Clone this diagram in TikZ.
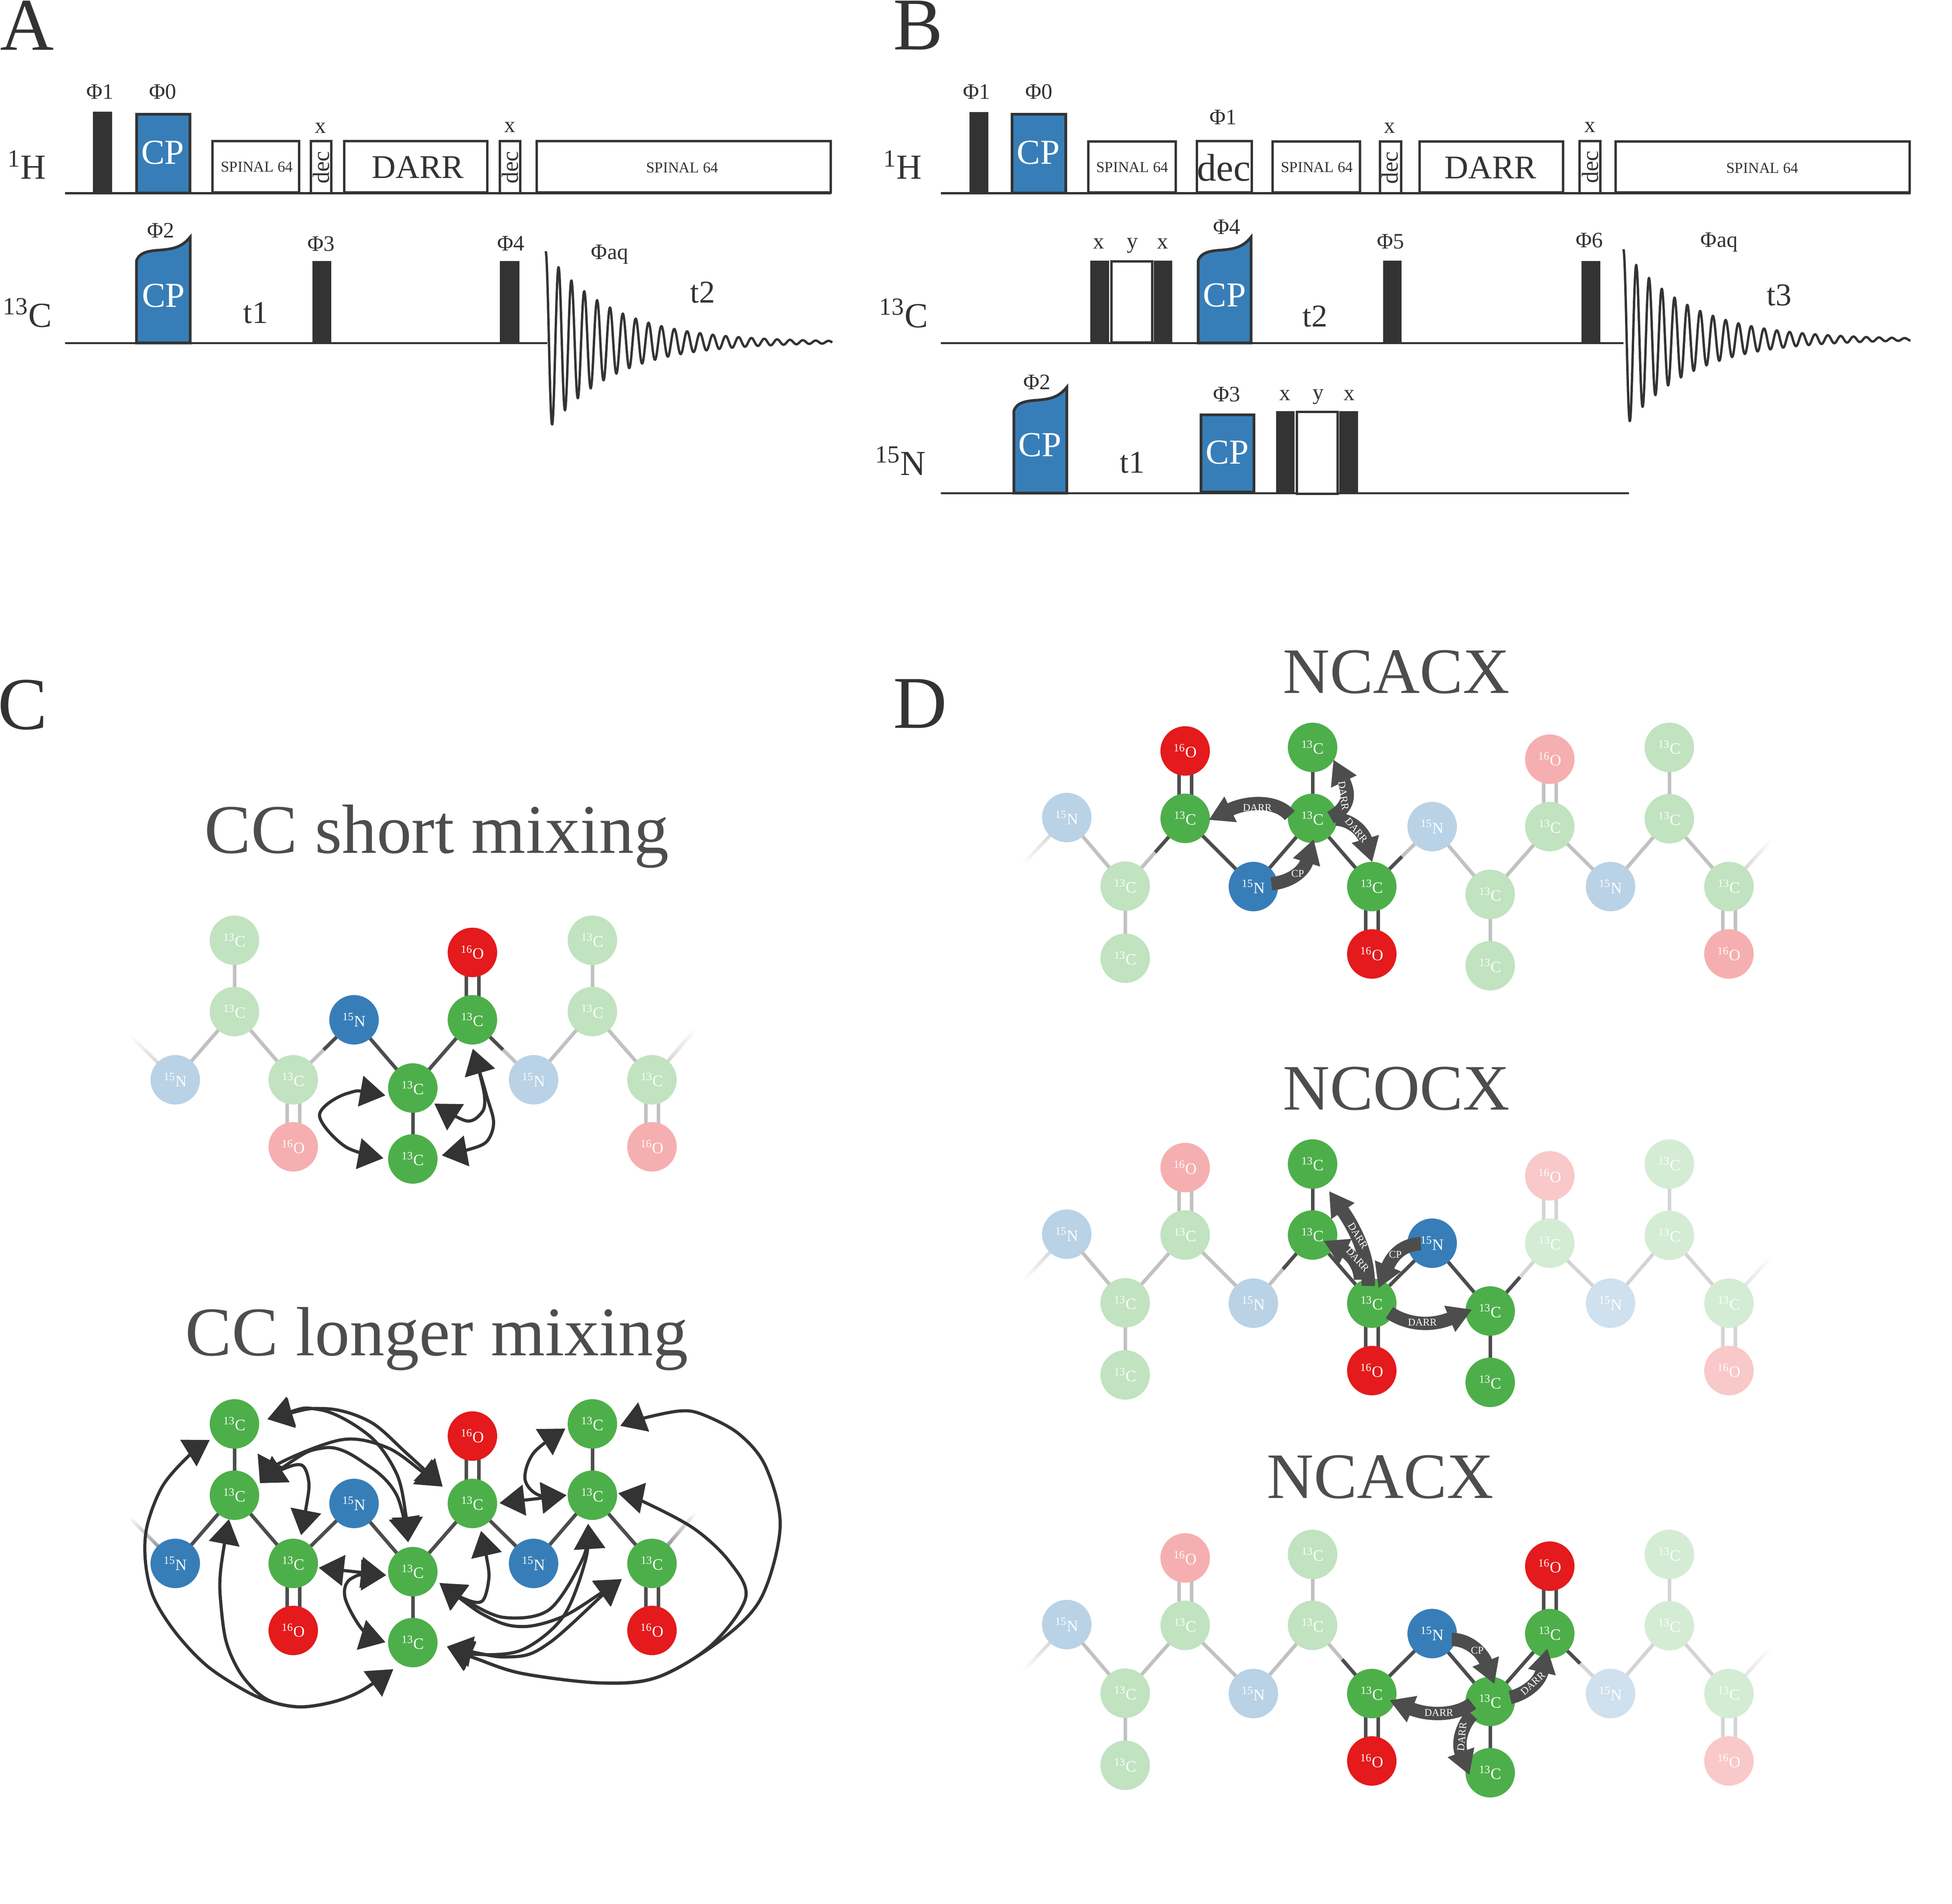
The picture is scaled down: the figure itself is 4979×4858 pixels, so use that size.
\documentclass[tikz,border=0pt]{standalone}
\usepackage{fontspec}
\setmainfont{Liberation Serif}
\usetikzlibrary{arrows.meta,calc}
\pgfdeclarelayer{paper}
\pgfdeclarelayer{background}
\pgfsetlayers{paper,background,main}
\definecolor{colC}{HTML}{4DAF4A}
\definecolor{colN}{HTML}{377EB8}
\definecolor{colO}{HTML}{E41A1C}
\definecolor{bondbase}{HTML}{4D4D4D}
\definecolor{ink}{HTML}{333333}
\newcommand\fsz[1]{\fontsize{#1}{#1}\selectfont}
\newcommand\lblC{\textsuperscript{13}C}
\newcommand\lblN{\textsuperscript{15}N}
\newcommand\lblO{\textsuperscript{16}O}
\tikzset{
 atom/.style={circle,minimum size=1.26cm,inner sep=0pt,text=white,font=\fsz{11.5}},
 bondline/.style={line width=.09cm},
 thinarrow/.style={draw=ink,line width=.08cm,{Triangle[width=.78cm,length=.64cm]}-{Triangle[width=.78cm,length=.64cm]}},
 fatarrow/.style={draw=bondbase,line width=.34cm,-{Triangle[width=.68cm,length=.62cm]}},
 fatlab/.style={text=white,inner sep=0pt,font=\fsz{7.5}},
 title/.style={text=bondbase,inner sep=0pt,font=\fsz{50.5}},
 titleb/.style={text=bondbase,inner sep=0pt,font=\fsz{47}},
 panel/.style={text=ink,inner sep=0pt,anchor=base west,font=\fsz{54}},
 chan/.style={text=ink,inner sep=0pt,anchor=base,font=\fsz{25.5}},
 phase/.style={text=ink,inner sep=0pt,font=\fsz{16}},
 delay/.style={text=ink,inner sep=0pt,font=\fsz{23}},
 cptext/.style={text=white,inner sep=0pt,font=\fsz{25.5}},
 spin/.style={text=ink,inner sep=0pt,font=\fsz{11}},
 darr/.style={text=ink,inner sep=0pt,font=\fsz{24}},
 dectext/.style={text=ink,inner sep=0pt,font=\fsz{17},rotate=90},
 bigdec/.style={text=ink,inner sep=0pt,font=\fsz{28}},
 railthick/.style={draw=ink,line width=.06cm},
 railthin/.style={draw=ink,line width=.05cm},
 pbar/.style={fill=ink},
 pbox/.style={draw=ink,fill=white,line width=.06cm},
 cpbox/.style={draw=ink,fill=colN,line width=.07cm},
 fid/.style={draw=ink,line width=.06cm,line join=round},
 curve/.style={smooth,tension=.55},
}
% atom tables: index / type / x / y relative to the first nitrogen
\def\chainC{1/N/0/0,2/C/151/-174,3/C/151/-356,4/C/301/0,5/O/301/171,6/N/456/-153,7/C/606/21,8/C/606/202,9/C/758/-153,10/O/758/-325,11/N/914/0,12/C/1064/-174,13/C/1064/-356,14/C/1216/0,15/O/1216/171}
\def\chainD{1/N/0/0,2/C/149/175,3/C/149/359,4/C/302/2,5/O/302/-170,6/N/476/176,7/C/627/2,8/C/627/-179,9/C/778/176,10/O/778/348,11/N/932/23,12/C/1080/196,13/C/1080/378,14/C/1232/23,15/O/1232/-149,16/N/1387/176,17/C/1537/3,18/C/1537/-179,19/C/1689/176,20/O/1689/348}
\newcommand\molatoms[7]{% list, prefix, dx, dy, lo, hi, right level
 \foreach \aid/\atype/\ax/\ay in #1 {
  \pgfmathtruncatemacro\L{\aid<#5 ? 35 : (\aid>#6 ? #7 : 100)}
  \expandafter\xdef\csname lev#2\aid\endcsname{\L}
  \node[atom,fill=col\atype!\L!white] (#2\aid) at ({\ax+#3},{\ay+#4}) {\csname lbl\atype\endcsname};
 }
}
\newcommand\bondS[3]{%
 \edef\levP{\csname lev#1#2\endcsname}\edef\levQ{\csname lev#1#3\endcsname}%
 \draw[bondline,draw=bondbase!\levP!white] (#1#2.center) -- ($(#1#2.center)!.5!(#1#3.center)$);
 \draw[bondline,draw=bondbase!\levQ!white] (#1#3.center) -- ($(#1#2.center)!.5!(#1#3.center)$);
}
\newcommand\bondD[3]{%
 \edef\levP{\csname lev#1#2\endcsname}\edef\levQ{\csname lev#1#3\endcsname}%
 \foreach \off in {-16,16}{
 \draw[bondline,draw=bondbase!\levP!white] ($(#1#2.center)+(\off,0)$) -- ($(#1#2.center)!.5!(#1#3.center)+(\off,0)$);
 \draw[bondline,draw=bondbase!\levQ!white] ($(#1#3.center)+(\off,0)$) -- ($(#1#2.center)!.5!(#1#3.center)+(\off,0)$);
 }
}
\newcommand\chainbonds[1]{%
 \foreach \pa/\qa in {1/2,2/3,2/4,4/6,6/7,7/8,7/9,9/11,11/12,12/13,12/14} {\bondS{#1}{\pa}{\qa}}
 \foreach \pa/\qa in {4/5,9/10,14/15} {\bondD{#1}{\pa}{\qa}}
}
\newcommand\chainbondsD[1]{%
 \chainbonds{#1}
 \foreach \pa/\qa in {14/16,16/17,17/18,17/19} {\bondS{#1}{\pa}{\qa}}
 \bondD{#1}{19}{20}
}
\newcommand\cpshape[3]{% x1 x2 bottom
 \draw[cpbox] (#1,#3) -- (#1,{#3-209}) .. controls ({#1+.05*(#2-#1)},{#3-230}) and ({#1+.2*(#2-#1)},{#3-235}) .. ({#1+.45*(#2-#1)},{#3-237}) .. controls ({#1+.7*(#2-#1)},{#3-240}) and ({#1+.85*(#2-#1)},{#3-245}) .. (#2,{#3-270}) -- (#2,#3) -- cycle;
}
\newcommand\tailup[3]{% atom, end, colour: fades upward
 \shade[top color=white,bottom color=#3] ($(#1)+(-6,0)$) -- ($(#1)+(6,0)$) -- ($(#2)+(6,0)$) -- ($(#2)+(-6,0)$) -- cycle;
}
\newcommand\taildown[3]{%
 \shade[bottom color=white,top color=#3] ($(#1)+(-6,0)$) -- ($(#1)+(6,0)$) -- ($(#2)+(6,0)$) -- ($(#2)+(-6,0)$) -- cycle;
}
\begin{document}
\begin{tikzpicture}[x=.01cm,y=-.01cm]
\begin{pgfonlayer}{paper}
\fill[white] (0,0) rectangle (4979,4858);
\end{pgfonlayer}
\useasboundingbox (0,0) rectangle (4979,4858);
% ---------- panel letters
\node[panel] (pA) at (0,128) {A};
\node[panel] (pB) at (2278,127) {B};
\node[panel] (pC) at (-6,1860) {C};
\node[panel] (pD) at (2278,1857) {D};
% ---------- panel A
\draw[railthick] (166,493) -- (2120,493);
\draw[railthin] (166,875) -- (1396,875);
\node[chan] (aH) at (68,457) {\textsuperscript{1}H};
\node[chan] (aC) at (70,834) {\textsuperscript{13}C};
\fill[pbar] (237,285) rectangle (286,496);
\draw[cpbox] (348,292) rectangle (484,493);
\node[cptext] (acp1) at (415,389) {CP};
\node[phase] (ap1) at (255,234) {Φ1};
\node[phase] (ap0) at (415,234) {Φ0};
\draw[pbox] (542,360) rectangle (763,491);
\node[spin] (as1) at (655,426) {SPINAL 64};
\draw[pbox] (793,360) rectangle (845,493);
\node[dectext] (ad1) at (819,427) {dec};
\node[phase] (ax1) at (818,327) {x};
\draw[pbox] (878,360) rectangle (1243,491);
\node[darr] (adarr) at (1066,427) {DARR};
\draw[pbox] (1275,360) rectangle (1327,493);
\node[dectext] (ad2) at (1301,427) {dec};
\node[phase] (ax2) at (1301,325) {x};
\draw[pbox] (1369,360) rectangle (2119,491);
\node[spin] (as2) at (1740,428) {SPINAL 64};
\cpshape{348}{485}{875}
\node[cptext] (acp2) at (417,754) {CP};
\node[phase] (ap2) at (410,588) {Φ2};
\node[delay] (at1) at (652,798) {t1};
\fill[pbar] (797,666) rectangle (845,877);
\node[phase] (ap3) at (819,622) {Φ3};
\fill[pbar] (1275,666) rectangle (1325,877);
\node[phase] (ap4) at (1303,621) {Φ4};
\draw[fid] plot[samples=700,domain=0:731,variable=\t] ({1392+\t},{873-232*exp(-\t/170)*cos(\t*10.976)});
\node[phase] (apaq) at (1555,649) {Φaq};
\node[delay] (at2) at (1792,746) {t2};
% ---------- panel B
\draw[railthick] (2400,493) -- (4873,493);
\draw[railthin] (2400,875) -- (4141,875);
\draw[railthin] (2400,1258) -- (4155,1258);
\node[chan] (bH) at (2302,457) {\textsuperscript{1}H};
\node[chan] (bC) at (2305,835) {\textsuperscript{13}C};
\node[chan] (bN) at (2297,1212) {\textsuperscript{15}N};
\fill[pbar] (2473,286) rectangle (2521,496);
\node[phase] (bp1) at (2491,234) {Φ1};
\draw[cpbox] (2581,292) rectangle (2718,493);
\node[phase] (bp0) at (2650,234) {Φ0};
\node[cptext] (bcp1) at (2648,389) {CP};
\draw[pbox] (2776,361) rectangle (2999,491);
\node[spin] (bs1) at (2888,427) {SPINAL 64};
\draw[pbox] (3053,360) rectangle (3193,491);
\node[bigdec] (bdec) at (3122,428) {dec};
\node[phase] (bp1b) at (3120,299) {Φ1};
\draw[pbox] (3246,361) rectangle (3469,491);
\node[spin] (bs2) at (3359,427) {SPINAL 64};
\draw[pbox] (3520,361) rectangle (3574,493);
\node[dectext] (bd1) at (3545,428) {dec};
\node[phase] (bx1) at (3545,327) {x};
\draw[pbox] (3621,361) rectangle (3987,491);
\node[darr] (bdarr) at (3802,428) {DARR};
\draw[pbox] (4029,360) rectangle (4082,493);
\node[dectext] (bd2) at (4056,426) {dec};
\node[phase] (bx2) at (4056,325) {x};
\draw[pbox] (4121,361) rectangle (4871,491);
\node[spin] (bs3) at (4495,429) {SPINAL 64};
\fill[pbar] (2781,665) rectangle (2829,877);
\draw[pbox] (2835,667) rectangle (2939,874);
\fill[pbar] (2943,665) rectangle (2990,877);
\node[phase] (bcx1) at (2803,622) {x};
\node[phase] (bcy) at (2889,627) {y};
\node[phase] (bcx2) at (2966,622) {x};
\cpshape{3056}{3191}{875}
\node[phase] (bp4) at (3129,579) {Φ4};
\node[cptext] (bcp2) at (3123,753) {CP};
\node[delay] (bt2) at (3354,807) {t2};
\fill[pbar] (3528,665) rectangle (3575,877);
\node[phase] (bp5) at (3547,616) {Φ5};
\fill[pbar] (4034,666) rectangle (4082,877);
\node[phase] (bp6) at (4054,613) {Φ6};
\draw[fid] plot[samples=700,domain=0:732,variable=\t] ({4141+\t},{866-230*exp(-\t/170)*cos(\t*11.043)});
\node[phase] (bpaq) at (4385,618) {Φaq};
\node[delay] (bt3) at (4538,753) {t3};
\cpshape{2586}{2721}{1258}
\node[phase] (bp2) at (2645,975) {Φ2};
\node[cptext] (bcp3) at (2652,1135) {CP};
\node[delay] (bt1) at (2888,1180) {t1};
\draw[cpbox] (3063,1058) rectangle (3198,1255);
\node[phase] (bp3) at (3129,1006) {Φ3};
\node[cptext] (bcp4) at (3130,1154) {CP};
\fill[pbar] (3255,1049) rectangle (3302,1260);
\draw[pbox] (3308,1051) rectangle (3412,1260);
\fill[pbar] (3416,1049) rectangle (3464,1260);
\node[phase] (bnx1) at (3278,1009) {x};
\node[phase] (bny) at (3363,1013) {y};
\node[phase] (bnx2) at (3442,1009) {x};
% ---------- titles
\node[title] (tcs) at (1114,2134) {CC short mixing};
\node[title] (tcl) at (1114,3416) {CC longer mixing};
\node[titleb] (tn1) at (3562,1715) {NCACX};
\node[titleb] (tn2) at (3562,2778) {NCOCX};
\node[titleb] (tn3) at (3521,3769) {NCACX};
% ---------- molecules
\molatoms{\chainC}{s}{447}{2755}{6}{10}{35}
\molatoms{\chainC}{l}{447}{3989}{1}{15}{100}
\molatoms{\chainD}{t}{2721}{2086}{4}{10}{35}
\molatoms{\chainD}{m}{2721}{3149}{7}{13}{24}
\molatoms{\chainD}{b}{2721}{4145}{9}{15}{24}
\coordinate (se1) at (330,2640);
\coordinate (se2) at (1775,2624);
\coordinate (le1) at (329,3870);
\coordinate (le2) at (1775,3858);
\coordinate (te1) at (2610,2205);
\coordinate (te2) at (4520,2140);
\coordinate (me1) at (2610,3268);
\coordinate (me2) at (4520,3203);
\coordinate (be1) at (2610,4264);
\coordinate (be2) at (4520,4199);
\begin{pgfonlayer}{background}
\chainbonds{s}\chainbonds{l}
\chainbondsD{t}\chainbondsD{m}\chainbondsD{b}
\tailup{s1}{se1}{bondbase!35!white}
\tailup{s14}{se2}{bondbase!35!white}
\tailup{l1}{le1}{bondbase!90!white}
\tailup{l14}{le2}{bondbase!90!white}
\taildown{t1}{te1}{bondbase!35!white}
\tailup{t19}{te2}{bondbase!35!white}
\taildown{m1}{me1}{bondbase!35!white}
\tailup{m19}{me2}{bondbase!24!white}
\taildown{b1}{be1}{bondbase!35!white}
\tailup{b19}{be2}{bondbase!24!white}
\end{pgfonlayer}
% ---------- CC short mixing arrows
\draw[thinarrow] plot[curve] coordinates {($(s7)+(-70,19)$) (885,2790) (815,2845) (880,2925) ($(s8)+(-75,-2)$)};
\draw[thinarrow] plot[curve] coordinates {($(s9)+(1,74)$) (1223,2737) (1236,2798) (1230,2837) (1190,2860) ($(s7)+(55,40)$)};
\draw[thinarrow] plot[curve] coordinates {($(s9)+(1,74)$) (1241,2795) (1259,2864) (1241,2913) (1192,2934) ($(s8)+(74,-9)$)};
% ---------- CC longer mixing arrows
\coordinate (tA) at ($(l3)+(84,-12)$);
\coordinate (tAo) at ($(l3)+(-63,41)$);
\coordinate (tB) at ($(l2)+(65,-31)$);
\coordinate (tBo) at ($(l2)+(-14,61)$);
\coordinate (tCa) at ($(l4)+(20,-72)$);
\coordinate (tCb) at ($(l4)+(65,11)$);
\coordinate (tDl) at ($(l7)+(-68,9)$);
\coordinate (tDa) at ($(l7)+(-12,-75)$);
\coordinate (tDr) at ($(l7)+(68,29)$);
\coordinate (tEl) at ($(l8)+(-70,-1)$);
\coordinate (tEb) at ($(l8)+(-50,68)$);
\coordinate (tEr) at ($(l8)+(87,10)$);
\coordinate (tFa) at ($(l9)+(-76,-43)$);
\coordinate (tFb) at ($(l9)+(22,70)$);
\coordinate (tFr) at ($(l9)+(69,-1)$);
\coordinate (tGl) at ($(l12)+(-66,0)$);
\coordinate (tGb) at ($(l12)+(-11,73)$);
\coordinate (tGr) at ($(l12)+(66,-5)$);
\coordinate (tHl) at ($(l13)+(-69,12)$);
\coordinate (tHr) at ($(l13)+(71,5)$);
\coordinate (tI) at ($(l14)+(-77,40)$);
\draw[thinarrow] plot[curve] coordinates {(tA) (828,3594) (943,3627) (1035,3706) (tFa)};
\draw[thinarrow] plot[curve] coordinates {(tA) (817,3597) (943,3664) (1012,3761) (1035,3864) (tDa)};
\draw[thinarrow] plot[curve] coordinates {(tB) (713,3733) (874,3673) (989,3694) (1081,3758) (tFa)};
\draw[thinarrow] plot[curve] coordinates {(tB) (828,3694) (943,3742) (1012,3815) (tDa)};
\draw[thinarrow] plot[curve] coordinates {(tB) (725,3747) (771,3739) (788,3785) (780,3851) (tCa)};
\draw[thinarrow] (tCb) -- (tDl);
\draw[thinarrow] plot[curve] coordinates {(tDl) (897,4027) (880,4076) (926,4160) (tEl)};
\draw[thinarrow] plot[curve] coordinates {(tDr) (1184,4079) (1230,4085) (1247,4027) (1241,3973) (tFb)};
\draw[thinarrow] plot[curve] coordinates {(tDr) (1190,4085) (1287,4127) (1402,4106) (1488,3973) (tGb)};
\draw[thinarrow] plot[curve] coordinates {(tDr) (1253,4130) (1339,4150) (1437,4124) (1534,4064) (tI)};
\draw[thinarrow] plot[curve] coordinates {(tEr) (1218,4221) (1333,4209) (1437,4124) (1494,3979) (tGb)};
\draw[thinarrow] plot[curve] coordinates {(tEr) (1310,4227) (1402,4191) (1540,4067) (tI)};
\draw[thinarrow] plot[curve] coordinates {(tEr) (1218,4233) (1333,4270) (1534,4294) (1678,4279) (1815,4197) (1902,4076) (1861,3985) (1770,3900) (1638,3830) (tGr)};
\draw[thinarrow] plot[curve] coordinates {(tEr) (1218,4233) (1333,4270) (1534,4294) (1678,4279) (1838,4185) (1942,4076) (1990,3894) (1953,3742) (1884,3658) (1792,3609) (1735,3600) (1643,3618) (tHr)};
\draw[thinarrow] (tFr) -- (tGl);
\draw[thinarrow] plot[curve] coordinates {(tGl) (1373,3814) (1339,3773) (1362,3706) (tHl)};
\draw[thinarrow] plot[curve] coordinates {(tAo) (484,3712) (415,3791) (375,3894) (371,3985) (392,4076) (449,4167) (530,4252) (633,4318) (702,4345) (771,4355) (851,4342) (920,4315) (tEb)};
\draw[thinarrow] plot[curve] coordinates {(tBo) (572,3942) (562,4015) (562,4076) (576,4185) (610,4264) (656,4318) (702,4345) (771,4355) (851,4342) (920,4315) (tEb)};
% ---------- NCACX (top) arrows
\draw[fatarrow] ($(t7)+(-58,-7)$) .. controls (3255,2040) and (3180,2045) .. ($(t4)+(60,4)$);
\draw[fatarrow] ($(t7)+(46,-2)$) .. controls (3440,2060) and (3445,2030) .. ($(t8)+(53,31)$);
\draw[fatarrow] ($(t7)+(60,2)$) .. controls (3450,2092) and (3478,2125) .. ($(t9)+(1,-62)$);
\draw[fatarrow] ($(t6)+(46,-7)$) .. controls (3290,2250) and (3325,2225) .. ($(t7)+(3,53)$);
\node[fatlab] (lt1) at (3207,2061) {DARR};
\node[fatlab,rotate=-82] (lt2) at (3427,2030) {DARR};
\node[fatlab,rotate=-50] (lt3) at (3460,2118) {DARR};
\node[fatlab] (lt4) at (3310,2229) {CP};
% ---------- NCOCX arrows
\draw[fatarrow] ($(m9)+(-9,-44)$) .. controls (3492,3210) and (3460,3140) .. ($(m8)+(42,69)$);
\draw[fatarrow] ($(m9)+(-29,-60)$) .. controls (3470,3230) and (3445,3200) .. ($(m7)+(28,15)$);
\draw[fatarrow] ($(m11)+(-29,1)$) .. controls (3585,3175) and (3555,3195) .. ($(m9)+(17,-38)$);
\draw[fatarrow] ($(m9)+(45,24)$) .. controls (3590,3380) and (3650,3385) .. ($(m12)+(-46,-4)$);
\node[fatlab,rotate=-58] (lm1) at (3464,3153) {DARR};
\node[fatlab,rotate=-48] (lm2) at (3463,3214) {DARR};
\node[fatlab] (lm3) at (3559,3201) {CP};
\node[fatlab] (lm4) at (3628,3374) {DARR};
% ---------- NCACX (bottom) arrows
\draw[fatarrow] ($(b11)+(50,15)$) .. controls (3745,4183) and (3780,4215) .. ($(b12)+(11,-44)$);
\draw[fatarrow] ($(b12)+(51,-10)$) .. controls (3880,4325) and (3925,4300) .. ($(b14)+(-6,38)$);
\draw[fatarrow] ($(b12)+(-46,5)$) .. controls (3720,4375) and (3650,4380) .. ($(b9)+(45,17)$);
\draw[fatarrow] ($(b12)+(-46,34)$) .. controls (3735,4395) and (3715,4440) .. ($(b13)+(-53,6)$);
\node[fatlab] (lb1) at (3768,4211) {CP};
\node[fatlab,rotate=42] (lb2) at (3910,4295) {DARR};
\node[fatlab] (lb3) at (3670,4370) {DARR};
\node[fatlab,rotate=85] (lb4) at (3729,4431) {DARR};
\end{tikzpicture}
\end{document}
